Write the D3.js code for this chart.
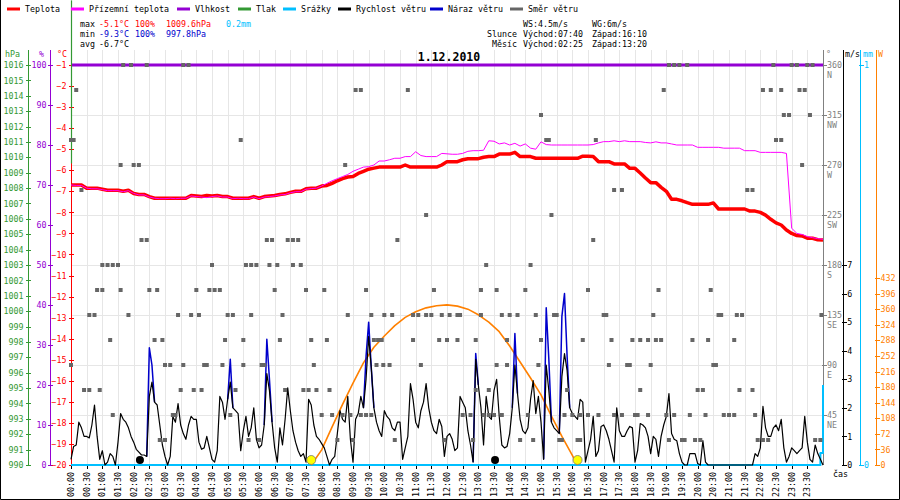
<!DOCTYPE html>
<html>
<head>
<meta charset="utf-8">
<script src="https://d3js.org/d3.v7.min.js"></script>
<style>
  body { margin: 0; background: #fff; }
  svg text { font-family: "DejaVu Sans Mono", monospace; font-size: 8.3px; }
  .crisp line { shape-rendering: crispEdges; }
</style>
</head>
<body>
<div id="chart"></div>
<script>
// ---- data ----
// temperature, every 10 minutes from 00:00 to 24:00
const tempValues = [
  -6.7,-6.7,-6.7,-6.85,-6.85,-6.85,-6.9,-6.95,-6.95,-6.95,-7.0,-6.95,
  -7.1,-7.15,-7.15,-7.25,-7.33,-7.33,-7.33,-7.33,-7.33,-7.33,-7.33,-7.2,
  -7.22,-7.25,-7.2,-7.22,-7.2,-7.25,-7.25,-7.33,-7.33,-7.33,-7.33,-7.25,
  -7.33,-7.25,-7.22,-7.2,-7.15,-7.12,-7.05,-7.0,-7.0,-6.88,-6.85,-6.85,
  -6.75,-6.72,-6.62,-6.5,-6.4,-6.32,-6.3,-6.15,-6.05,-5.95,-5.9,-5.85,
  -5.85,-5.85,-5.85,-5.85,-5.75,-5.85,-5.85,-5.85,-5.85,-5.85,-5.85,-5.75,
  -5.59,-5.59,-5.59,-5.5,-5.45,-5.45,-5.45,-5.38,-5.35,-5.35,-5.23,-5.23,
  -5.23,-5.15,-5.35,-5.35,-5.35,-5.43,-5.43,-5.43,-5.43,-5.43,-5.43,-5.43,
  -5.43,-5.43,-5.33,-5.33,-5.35,-5.59,-5.59,-5.59,-5.7,-5.7,-5.7,-5.91,
  -5.91,-6.13,-6.37,-6.59,-6.59,-6.81,-7.0,-7.38,-7.38,-7.45,-7.54,-7.62,
  -7.62,-7.62,-7.62,-7.55,-7.84,-7.84,-7.84,-7.84,-7.84,-7.84,-7.94,-7.94,
  -8.0,-8.13,-8.33,-8.5,-8.6,-8.84,-9.0,-9.1,-9.12,-9.23,-9.23,-9.3,
  -9.31
];
// prizemni teplota, every 10 minutes
const groundValues = [
  -6.7,-6.72,-6.72,-6.85,-6.88,-6.88,-6.92,-6.97,-6.97,-6.97,-7.02,-6.97,
  -7.1,-7.17,-7.17,-7.27,-7.33,-7.35,-7.35,-7.33,-7.35,-7.33,-7.33,-7.22,
  -7.25,-7.27,-7.3,-7.25,-7.22,-7.27,-7.27,-7.35,-7.33,-7.35,-7.35,-7.27,
  -7.35,-7.27,-7.25,-7.22,-7.17,-7.15,-7.07,-7.02,-7.02,-6.9,-6.87,-6.85,
  -6.75,-6.62,-6.5,-6.4,-6.3,-6.2,-6.05,-5.95,-5.85,-5.83,-5.75,-5.56,
  -5.56,-5.5,-5.43,-5.43,-5.35,-5.35,-5.12,-5.3,-5.35,-5.35,-5.35,-5.2,
  -5.22,-5.24,-5.24,-5.2,-5.1,-5.07,-5.07,-5.05,-4.6,-4.62,-4.75,-4.7,
  -4.8,-4.72,-4.85,-4.75,-4.95,-5.0,-4.65,-4.78,-4.8,-4.8,-4.8,-4.8,
  -4.8,-4.8,-4.8,-4.8,-4.78,-4.7,-4.64,-4.64,-4.6,-4.64,-4.6,-4.64,
  -4.64,-4.64,-4.68,-4.7,-4.65,-4.7,-4.7,-4.75,-4.8,-4.8,-4.8,-4.8,
  -4.91,-4.91,-4.91,-4.91,-4.91,-4.95,-4.95,-4.95,-4.95,-5.07,-5.07,-5.07,
  -5.15,-5.15,-5.15,-5.15,-5.15,-5.2,-8.75,-9.0,-9.05,-9.15,-9.2,-9.25,
  -9.28
];
// wind speed m/s, every 5 minutes
const windValues = [
  0.2,0.65,0.7,1.5,1.3,1.0,1.0,0.95,1.4,2.1,1.0,0.2,
  0.5,0,0.1,0.4,0.3,0,0.8,1.8,1.6,1.5,1.3,1.0,
  0.8,0.55,0.45,0.35,0.35,0.3,2.4,2.9,2.2,2.1,1.4,0.7,
  0.3,0,0.3,1.7,1.5,2.15,1.4,1.1,0.9,1.4,1.7,1.6,
  1.6,0.8,0.55,0.6,1.0,0.6,0.2,0.1,0.5,2.4,2.2,1.6,
  2.3,2.9,2.0,1.9,1.8,0.5,1.2,1.7,1.0,1.3,2.0,0.9,
  0.6,0.7,1.4,3.2,2.6,1.5,0.6,0.1,1.3,0.7,1.6,2.7,
  1.9,1.2,0.8,0.5,0.3,0.4,0.1,2.3,2.1,1.4,1.0,0.9,
  0.75,0.6,0.3,0,0.2,0.3,1.1,1.9,1.6,1.5,2.4,0.9,
  0.1,1.6,1.8,2.4,2.0,3.0,4.5,3.4,2.0,1.5,1.2,1.0,
  1.9,1.7,1.6,1.3,1.2,1.5,1.5,0.2,0.6,1.0,2.85,2.3,
  1.5,1.3,1.9,2.2,2.85,2.0,1.5,1.2,1.1,1.6,1.35,0.3,
  1.0,1.1,0.9,0.5,0.6,2.4,2.2,2.0,1.2,0.7,0.1,3.7,
  2.8,2.0,0.7,2.4,1.7,1.6,2.6,3.0,1.7,0.7,0.6,0.65,
  1.1,2.0,3.5,2.5,1.6,1.2,1.1,1.3,2.3,2.95,1.8,2.4,
  1.5,0.2,3.5,2.6,1.5,1.3,1.2,1.1,3.1,3.9,3.3,2.0,
  1.8,1.7,1.6,2.3,2.2,0.1,0.5,0.9,1.7,0.3,0.5,1.35,
  1.4,1.2,0.9,0.5,0.1,2.0,1.2,1.0,1.0,1.2,1.35,1.3,
  0.1,0.5,1.45,1.4,1.3,1.0,0.4,1.0,0.9,0.3,1.0,1.4,
  1.7,2.5,1.1,0.9,0.85,0.4,0.1,0,0,0.4,0.4,0.4,
  0.05,0,0.85,0.1,0,0,0,0,0,0,0,0,
  0,0,0,0,0,0,0,0,0,0,0.4,0.3,
  0.6,2.05,1.3,1.0,1.0,1.3,1.4,1.2,1.6,0.6,0.1,0.3,
  0.6,0.5,0.4,0.5,0.6,1.7,0.8,0.2,0.1,0.7,0.4,0.2,
  0
];
// gust peaks [minute, m/s] where gust shows above wind speed
const gustSegments = [
  [[145,0.3],[150,4.1],[155,3.5],[160,2.2]],
  [[300,2.3],[305,3.7],[310,2.0]],
  [[370,1.4],[375,4.4],[380,3.0],[385,1.5]],
  [[560,2.0],[565,3.8],[570,5.0],[575,3.4],[580,2.0]],
  [[770,0.1],[775,3.9],[780,2.8]],
  [[845,2.0],[850,4.6],[855,2.5]],
  [[905,0.2],[910,5.5],[915,3.7],[920,1.5]],
  [[935,1.1],[940,5.2],[945,6.0],[950,3.8],[955,2.0]]
];
// wind direction samples [minute, degrees]
const dirSamples = [
  [100,360],[115,360],[145,360],[215,360],[225,360],[1145,360],[1155,360],[1165,360],[1180,360],
  [1345,360],[1380,360],[1390,360],[1410,360],[1420,360],
  [10,337.5],[545,337.5],[555,337.5],[645,337.5],[1135,337.5],[1325,337.5],[1340,337.5],[1360,337.5],[1395,337.5],[1405,337.5],
  [900,315],[1365,315],[1375,315],[1415,315],
  [0,292.5],[5,292.5],[325,292.5],[910,292.5],[915,292.5],[1005,292.5],[1350,292.5],[1360,292.5],
  [95,270],[120,270],[130,270],[525,270],[1400,270],
  [20,247.5],[1040,247.5],[1055,247.5],[1295,247.5],[1305,247.5],
  [680,225],[920,225],
  [135,202.5],[145,202.5],[375,202.5],[385,202.5],[415,202.5],[425,202.5],[435,202.5],[625,202.5],[1000,202.5],
  [60,180],[70,180],[80,180],[90,180],[270,180],[335,180],[345,180],[355,180],[380,180],[395,180],[425,180],[440,180],[795,180],[880,180],
  [50,157.5],[60,157.5],[95,157.5],[150,157.5],[165,157.5],[240,157.5],[265,157.5],[275,157.5],[285,157.5],[390,157.5],[450,157.5],
  [485,157.5],[565,157.5],[695,157.5],[785,157.5],[815,157.5],[870,157.5],[990,157.5],[1125,157.5],[1225,157.5],
  [35,135],[45,135],[110,135],[205,135],[230,135],[245,135],[300,135],[310,135],[345,135],[405,135],[530,135],[575,135],
  [600,135],[615,135],[655,135],[665,135],[680,135],[690,135],[710,135],[725,135],[740,135],[745,135],[785,135],[825,135],
  [840,135],[855,135],[890,135],[925,135],[930,135],[1020,135],[1025,135],[1115,135],[1240,135],[1245,135],[1275,135],[1285,135],[1437,135],
  [75,112.5],[160,112.5],[175,112.5],[295,112.5],[330,112.5],[400,112.5],[460,112.5],[490,112.5],[580,112.5],[588,112.5],[595,112.5],
  [655,112.5],[705,112.5],[720,112.5],[740,112.5],[775,112.5],[835,112.5],[900,112.5],[980,112.5],[1035,112.5],[1075,112.5],
  [1090,112.5],[1105,112.5],[1120,112.5],[1130,112.5],[1190,112.5],[1220,112.5],[1270,112.5],
  [0,90],[180,90],[190,90],[215,90],[255,90],[260,90],[290,90],[330,90],[365,90],[370,90],[465,90],[585,90],[598,90],[610,90],
  [670,90],[815,90],[835,90],[895,90],[1030,90],[1065,90],[1070,90],[1110,90],[1230,90],[1235,90],
  [25,67.5],[35,67.5],[55,67.5],[210,67.5],[235,67.5],[250,67.5],[315,67.5],[410,67.5],[445,67.5],[455,67.5],[470,67.5],
  [495,67.5],[775,67.5],[800,67.5],[950,67.5],[1090,67.5],[1200,67.5],[1210,67.5],[1280,67.5],[1305,67.5],
  [80,45],[195,45],[200,45],[305,45],[480,45],[500,45],[520,45],[535,45],[555,45],[565,45],[575,45],[750,45],[765,45],
  [790,45],[800,45],[810,45],[825,45],[875,45],[945,45],[960,45],[975,45],[990,45],[1010,45],[1040,45],[1055,45],[1080,45],
  [1085,45],[1105,45],[1140,45],[1155,45],[1185,45],[1215,45],[1250,45],[1260,45],[1270,45],[1310,45],
  [170,22.5],[180,22.5],[340,22.5],[360,22.5],[510,22.5],[540,22.5],[620,22.5],[715,22.5],[770,22.5],[860,22.5],[885,22.5],
  [935,22.5],[940,22.5],[970,22.5],[975,22.5],[1145,22.5],[1170,22.5],[1175,22.5],[1195,22.5],[1205,22.5],[1315,22.5],
  [1325,22.5],[1335,22.5],[1425,22.5],[1435,22.5]
];
// solar radiation W/m2
const solarTimes  = [460, 480, 500, 520, 540, 560, 580, 600, 620, 640, 660, 680, 700, 720, 740, 760, 780, 800, 820, 840, 860, 880, 900, 920, 940, 960, 970];
const solarValues = [0, 35, 88, 140, 189, 236, 272, 298, 322, 341, 354, 363, 368, 370, 367, 360, 347, 330, 308, 275, 238, 201, 162, 113, 66, 22, 0];
// humidity, pressure, rain
const humTimes = [0, 1440], humValues = [100, 100];
const pressTimes = [0, 0], pressValues = [1020.2, 1009.6];
const rainTimes = [0, 1435, 1435, 1440, 1440], rainValues = [0, 0, 0.03, 0.03, 0.2];
// sun and moon markers (minutes)
const sunTimes = [460, 970];
const moonTimes = [132, 812];

const dirTickValues = [45, 90, 135, 180, 225, 270, 315, 360];
const dirTickNames  = ["NE", "E", "SE", "S", "SW", "W", "NW", "N"];
const solarTicks = [0, 36, 72, 108, 144, 180, 216, 252, 288, 324, 360, 396, 432];

const legendNames  = ["Teplota", "Přízemní teplota", "Vlhkost", "Tlak", "Srážky", "Rychlost větru", "Náraz větru", "Směr větru"];

// ---- colours ----
const cRed = "#ff0000", cMag = "#ff00ff", cPur = "#9400d3", cGreen = "#339933",
      cCyan = "#00bfff", cBlack = "#000000", cBlue = "#0000cc", cGrey = "#666666", cOrange = "#ff8000";
const legendColors = [cRed, cMag, cPur, cGreen, cCyan, cBlack, cBlue, cGrey];
const legendX = [7, 71, 177, 238, 283, 338, 430, 510];

const W = 900, H = 500;
const svg = d3.select("#chart").append("svg").attr("width", W).attr("height", H);

// ---- scales ----
const x = d3.scaleLinear().domain([0, 1440]).range([71, 823]);
const yTemp = d3.scaleLinear().domain([-20, -1]).range([465, 65]);
const yHum = d3.scaleLinear().domain([0, 100]).range([465, 65]);
const yPress = d3.scaleLinear().domain([990, 1016]).range([465, 65]);
const yDir = d3.scaleLinear().domain([0, 360]).range([465, 65]);
const yWind = d3.scaleLinear().domain([0, 7]).range([465, 265]);
const yRain = d3.scaleLinear().domain([0, 1]).range([465, 65]);
const ySolar = d3.scaleLinear().domain([0, 432]).range([465, 278]);

// ---- grid ----
svg.append("g").attr("class", "crisp").selectAll("line").data(d3.range(0, 1441, 30)).join("line")
  .attr("x1", d => x(d) + 0.5).attr("x2", d => x(d) + 0.5)
  .attr("y1", 50).attr("y2", 465).attr("stroke", "#e6e6e6");
svg.append("g").attr("class", "crisp").selectAll("line").data(d3.range(0, 361, 45)).join("line")
  .attr("x1", 71).attr("x2", 823)
  .attr("y1", d => yDir(d) + 0.5).attr("y2", d => yDir(d) + 0.5).attr("stroke", "#e6e6e6");

// ---- axes ----
function vline(xp, color) {
  svg.append("line").attr("x1", xp + 0.5).attr("x2", xp + 0.5).attr("y1", 50).attr("y2", 465)
    .attr("stroke", color).style("shape-rendering", "crispEdges");
}
function leftAxis(xp, scale, ticks, color, pad) {
  const g = svg.append("g").attr("class", "crisp").attr("transform", `translate(${xp + 0.5},0)`).attr("color", color)
    .call(d3.axisLeft(scale).tickValues(ticks).tickSize(3).tickPadding(pad).tickFormat(d3.format("d")));
  g.select(".domain").remove();
  g.selectAll(".tick line").attr("x1", 2);
  g.selectAll("text").attr("fill", color);
  vline(xp, color);
  return g;
}
function rightAxis(xp, scale, ticks, color, pad, fmt) {
  const g = svg.append("g").attr("class", "crisp").attr("transform", `translate(${xp + 0.5},0)`).attr("color", color)
    .call(d3.axisRight(scale).tickValues(ticks).tickSize(3).tickPadding(pad).tickFormat(fmt || d3.format("d")));
  g.select(".domain").remove();
  g.selectAll(".tick line").attr("x1", -2);
  g.selectAll("text").attr("fill", color);
  vline(xp, color);
  return g;
}
leftAxis(28, yPress, d3.range(990, 1017), cGreen, 2);
leftAxis(50, yHum, d3.range(0, 101, 10), cPur, 1);
leftAxis(71, yTemp, d3.range(-20, 0), cRed, 2);

const gDir = rightAxis(823, yDir, dirTickValues, "#808080", 0.5);
gDir.selectAll(".tick").append("text")
  .attr("x", 3.5).attr("y", 10).attr("dy", "0.32em").attr("fill", "#808080")
  .text((d, i) => dirTickNames[i]);
rightAxis(843, yWind, d3.range(0, 8), cBlack, 0.7);
rightAxis(860, yRain, [0, 1], cCyan, 0.5);
rightAxis(876, ySolar, solarTicks, cOrange, 1);

// axis units
const units = [["hPa", 5, cGreen], ["%", 39, cPur], ["°C", 57, cRed], ["°", 826, "#808080"],
               ["m/s", 845, cBlack], ["mm", 863, cCyan], ["W", 878, cOrange]];
svg.append("g").selectAll("text").data(units).join("text")
  .attr("x", d => d[1]).attr("y", 57).attr("fill", d => d[2]).text(d => d[0]);

// time axis
const gx = svg.append("g").attr("class", "crisp").attr("transform", "translate(0,465)")
  .call(d3.axisBottom(x).tickValues(d3.range(0, 1440, 30)).tickSize(4)
    .tickFormat(d => d3.format("02d")(Math.floor(d / 60)) + ":" + d3.format("02d")(d % 60)));
gx.select(".domain").remove();
gx.selectAll("text").attr("transform", "rotate(-90)").attr("x", -7).attr("y", 0)
  .attr("dy", "0.32em").style("text-anchor", "end").attr("fill", cBlack);
svg.append("text").attr("x", 833).attr("y", 477).text("čas");

// ---- series ----
const minutes10 = d3.range(0, 1441, 10);
const minutes5 = d3.range(0, 1441, 5);

function path(pts, color, width) {
  svg.append("path").datum(pts)
    .attr("fill", "none").attr("stroke", color).attr("stroke-width", width)
    .attr("stroke-linejoin", "round")
    .attr("d", d3.line().x(d => d[0]).y(d => d[1]));
}

// rain
path(rainTimes.map((t, i) => [x(t), yRain(rainValues[i])]), cCyan, 2);
// humidity
path(humTimes.map((t, i) => [x(t), yHum(humValues[i])]), cPur, 3);
// pressure
path(pressTimes.map((t, i) => [x(t) + 0.5, yPress(pressValues[i])]), cGreen, 1.2);
// solar
path(solarTimes.map((t, i) => [x(t), ySolar(solarValues[i])]), cOrange, 1.6);
// gusts under the wind speed line
gustSegments.forEach(seg => path(seg.map(d => [x(d[0]), yWind(d[1])]), cBlue, 1.5));
// wind speed
path(windValues.map((v, i) => [x(minutes5[i]), yWind(v)]), cBlack, 1.2);
// temperature and ground temperature
path(tempValues.map((v, i) => [x(minutes10[i]), yTemp(v)]), cRed, 3.5);
path(groundValues.map((v, i) => [x(minutes10[i]), yTemp(v)]), cMag, 1);

// wind direction squares
svg.append("g").selectAll("rect").data(dirSamples).join("rect")
  .attr("x", d => x(d[0]) - 2).attr("y", d => yDir(d[1]) - 2)
  .attr("width", 4).attr("height", 4).attr("fill", cGrey);

// sun / moon markers
svg.append("g").selectAll("circle").data(moonTimes).join("circle")
  .attr("cx", d => x(d)).attr("cy", yWind(0) - 5).attr("r", 4).attr("fill", "#000");
svg.append("g").selectAll("circle").data(sunTimes).join("circle")
  .attr("cx", d => x(d)).attr("cy", yWind(0) - 5).attr("r", 4.5)
  .attr("fill", "#ffff00").attr("stroke", "#777").attr("stroke-width", 0.8);

// ---- legend ----
const lg = svg.append("g").selectAll("g").data(legendNames).join("g")
  .attr("transform", (d, i) => `translate(${legendX[i]},0)`);
lg.append("line").attr("x1", 0).attr("x2", 13).attr("y1", 9).attr("y2", 9)
  .attr("stroke", (d, i) => legendColors[i]).attr("stroke-width", 3);
lg.append("text").attr("x", 18).attr("y", 12).attr("fill", "#000").text(d => d);

// ---- summary text ----
function txt(s, xp, yp, color, weight) {
  svg.append("text").attr("x", xp).attr("y", yp).attr("fill", color)
    .attr("font-weight", weight || "normal").text(s);
}
txt("max", 80, 27, cBlack);
txt("-5.1°C", 99, 27, cRed); txt("100%", 135, 27, cRed); txt("1009.6hPa", 166, 27, cRed);
txt("0.2mm", 226, 27, cCyan);
txt("min", 80, 37, cBlack);
txt("-9.3°C", 99, 37, cBlue); txt("100%", 135, 37, cBlue); txt("997.8hPa", 166, 37, cBlue);
txt("avg", 80, 47, cBlack); txt("-6.7°C", 99, 47, cBlack);

txt("WS:4.5m/s", 523, 27, cBlack); txt("WG:6m/s", 592, 27, cBlack);
txt("Slunce", 487, 37, cBlack); txt("Východ:07:40", 523, 37, cBlack); txt("Západ:16:10", 592, 37, cBlack);
txt("Měsíc", 492, 47, cBlack); txt("Východ:02:25", 523, 47, cBlack); txt("Západ:13:20", 592, 47, cBlack);

svg.append("text").attr("x", 449).attr("y", 61).attr("text-anchor", "middle")
  .attr("font-weight", "bold").style("font-size", "11.5px").text("1.12.2010");

// frame
svg.append("path").attr("d", "M0.5,0 V499.5 H899.5 V0").attr("fill", "none").attr("stroke", "#000");
</script>
</body>
</html>
